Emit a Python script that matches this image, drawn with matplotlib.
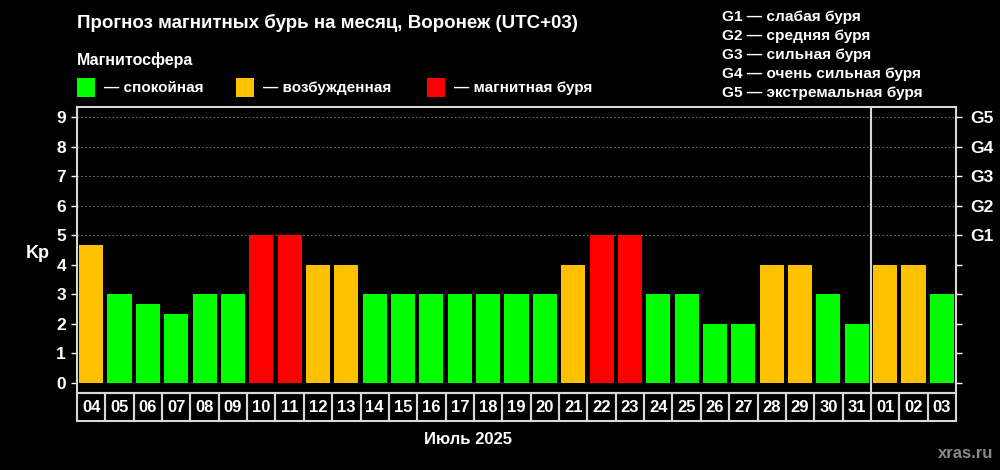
import matplotlib.pyplot as plt
import matplotlib.transforms as mtransforms
from matplotlib.patches import Rectangle

plt.rcParams['font.family'] = ['Liberation Sans', 'DejaVu Sans']
plt.rcParams['font.weight'] = 'bold'

# Данные прогноза
days = ["04", "05", "06", "07", "08", "09", "10", "11", "12", "13", "14", "15",
        "16", "17", "18", "19", "20", "21", "22", "23", "24", "25", "26", "27",
        "28", "29", "30", "31", "01", "02", "03"]
kp = [4.67, 3, 2.67, 2.33, 3, 3, 5, 5, 4, 4, 3, 3,
      3, 3, 3, 3, 3, 4, 5, 5, 3, 3, 2, 2,
      4, 4, 3, 2, 4, 4, 3]
g_labels = ["G1", "G2", "G3", "G4", "G5"]

GREEN = "#00ff00"
ORANGE = "#ffc000"
RED = "#ff0000"


def kp_color(v):
    if v >= 5:
        return RED
    if v >= 4:
        return ORANGE
    return GREEN


colors = [kp_color(v) for v in kp]

fig = plt.figure(figsize=(10, 4.7), dpi=100, facecolor="black")
ax = fig.add_axes([0.077, 0.1638, 0.879, 0.6085])
ax.set_facecolor("black")

x = list(range(len(days)))
ax.bar(x, kp, width=0.85, color=colors, zorder=3)

ax.set_xlim(-0.5, len(days) - 0.5)
ax.set_ylim(-0.35, 9.35)
ax.set_yticks(range(10))
ax.set_yticklabels([str(i) for i in range(10)], color="white", fontsize=12.5, fontweight="bold")
ax.set_xticks([])
for s in ax.spines.values():
    s.set_color("#d8d8d8")
    s.set_linewidth(1.5)
ax.tick_params(axis="y", colors="white", length=4, width=1, pad=4)

# пунктирная сетка на уровнях бурь
for lvl in range(5, 10):
    ax.axhline(lvl, color="#6e6e6e", lw=0.8, ls=(0, (1.5, 2)), zorder=1)

# граница месяцев
month_split = days.index("01") - 0.5
ax.axvline(month_split, color="#d8d8d8", lw=1.5, zorder=4)

# ячейки с датами под осью
trans = mtransforms.blended_transform_factory(ax.transData, ax.transAxes)
cell_h = 0.098
for i, d in enumerate(days):
    ax.add_patch(Rectangle((i - 0.5, -cell_h), 1, cell_h, transform=trans,
                           fill=False, edgecolor="#d8d8d8", lw=1.5, clip_on=False))
    ax.text(i, -cell_h / 2, d, transform=trans, ha="center", va="center",
            color="white", fontsize=12, fontweight="bold")

fig.text(0.038, 1 - 253 / 470, "Kp", color="white", fontsize=13,
         fontweight="bold", ha="center", va="center")

ax2 = ax.twinx()
ax2.set_ylim(ax.get_ylim())
ax2.set_yticks(range(10))
ax2.set_yticklabels([""] * 5 + g_labels, color="white", fontsize=12.5, fontweight="bold")
ax2.tick_params(axis="y", colors="white", length=4, width=1, pad=6)
for s in ax2.spines.values():
    s.set_visible(False)

# заголовок и легенда
fig.text(0.077, 0.952, "Прогноз магнитных бурь на месяц, Воронеж (UTC+03)",
         color="white", fontsize=13.5, fontweight="bold", va="center")
fig.text(0.077, 0.872, "Магнитосфера", color="white", fontsize=11.5,
         fontweight="bold", va="center")

legend_items = [(GREEN, "— спокойная", 0.077),
                (ORANGE, "— возбужденная", 0.236),
                (RED, "— магнитная буря", 0.427)]
for col, label, x0 in legend_items:
    fig.patches.append(Rectangle((x0, 0.793), 0.018, 0.04, transform=fig.transFigure,
                                 facecolor=col, edgecolor="none"))
    fig.text(x0 + 0.027, 0.813, label, color="white", fontsize=11,
             fontweight="bold", va="center")

g_desc = ["G1 — слабая буря", "G2 — средняя буря", "G3 — сильная буря",
          "G4 — очень сильная буря", "G5 — экстремальная буря"]
for k, t in enumerate(g_desc):
    fig.text(0.722, 1 - (17 + 19 * k) / 470, t, color="white", fontsize=11.1,
             fontweight="bold", va="center")

fig.text(0.468, 1 - 440 / 470, "Июль 2025", color="white", fontsize=12,
         fontweight="bold", ha="center", va="center")
fig.text(0.993, 1 - 454 / 470, "xras.ru", color="#8a8a8a", fontsize=12,
         fontweight="bold", ha="right", va="center")

fig.savefig("out.png", dpi=100, facecolor="black")
